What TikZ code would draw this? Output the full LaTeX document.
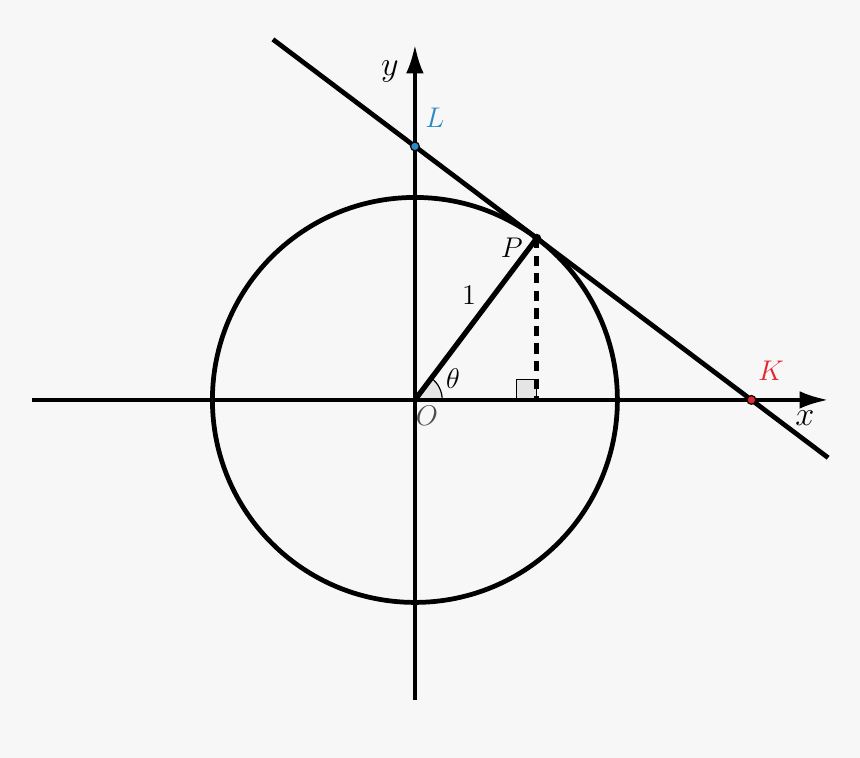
\documentclass[tikz,border=0pt]{standalone}
\usepackage{amsmath, amssymb}
\usetikzlibrary{arrows.meta, calc}

\definecolor{bgcol}{HTML}{F7F7F7}
\definecolor{lblue}{HTML}{2B8CC4}
\definecolor{kred}{HTML}{E32630}

\tikzset{
  axis/.style={line width=1.45pt, -{Latex[length=4.2mm, width=2.6mm]}},
  curve/.style={line width=2pt},
  lab/.style={inner sep=0pt, font=\large},
  dot/.style={circle, draw=black, line width=0.5pt, inner sep=0pt, minimum size=1.3mm}
}

\begin{document}
\begin{tikzpicture}[scale=3]
        % background and bounding box
        \fill[bgcol] (-2.049,-1.768) rectangle (2.198,1.975);
        \useasboundingbox (-2.049,-1.768) rectangle (2.198,1.975);

        \coordinate (O) at (0,0);
        \coordinate (P) at (53:1);
        \coordinate (F) at ({cos(53)},0);
        \coordinate (L) at (0,{1/sin(53)});
        \coordinate (K) at ({1/cos(53)},0);

        % angle and right angle marks
        \filldraw[fill=black!10, line width=0.5pt] (O) -- (0.135,0) arc (0:53:0.135) -- cycle;
        \filldraw[fill=black!10, line width=0.5pt] (F) rectangle ++(-0.1,0.1);

        % axes
        \draw[axis] (-1.891,0) -- (2.04,0);
        \draw[axis] (0,-1.481) -- (0,1.753);
        \node[lab, font=\Large] at (1.926,-0.089) {$x$};
        \node[lab, font=\Large] at (-0.123,1.62) {$y$};

        % circle, radius and tangent
        \draw[curve] (O) circle (1);
        \draw[line width=2.2pt] (O) -- (P);
        \draw[line width=2pt, dash pattern=on 0.15cm off 0.11cm] (P) -- (F);
        \draw[curve] ($(L)!-0.422!(K)$) -- ($(L)!1.228!(K)$);

        \fill (P) circle (0.022);
        \node[dot, fill=lblue] at (L) {};
        \node[dot, fill=kred] at (K) {};

        \node[lab] at (0.479,0.751) {$P$};
        \node[lab] at (0.267,0.519) {$1$};
        \node[lab] at (0.188,0.104) {$\theta$};
        \node[lab, text=black!70] at (0.059,-0.079) {$O$};
        \node[lab, text=lblue] at (0.099,1.393) {$L$};
        \node[lab, text=kred] at (1.758,0.143) {$K$};
    \end{tikzpicture}
\end{document}
